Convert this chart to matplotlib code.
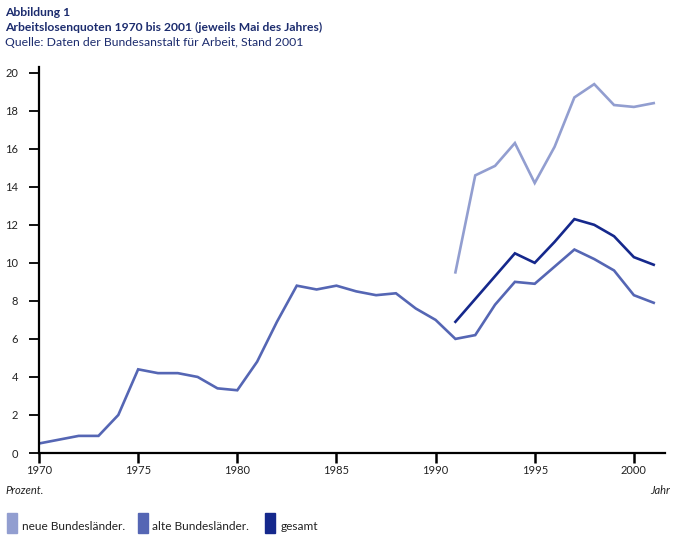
import matplotlib
matplotlib.use("Agg")
import matplotlib.pyplot as plt
from matplotlib.patches import Rectangle

years_alt = list(range(1970, 2002))
alte = [0.5, 0.7, 0.9, 0.9, 2.0, 4.4, 4.2, 4.2, 4.0, 3.4, 3.3, 4.8, 6.9, 8.8, 8.6, 8.8,
        8.5, 8.3, 8.4, 7.6, 7.0, 6.0, 6.2, 7.8, 9.0, 8.9, 9.8, 10.7, 10.2, 9.6, 8.3, 7.9]
years_new = list(range(1991, 2002))
neue = [9.5, 14.6, 15.1, 16.3, 14.2, 16.1, 18.7, 19.4, 18.3, 18.2, 18.4]
gesamt = [6.9, 8.1, 9.3, 10.5, 10.0, 11.1, 12.3, 12.0, 11.4, 10.3, 9.9]

xticks = [1970, 1975, 1980, 1985, 1990, 1995, 2000]
yticks = [0, 2, 4, 6, 8, 10, 12, 14, 16, 18, 20]

c_neue = "#929ed0"
c_alte = "#5566b4"
c_ges = "#15288c"
c_title = "#1c2c6e"

plt.rcParams['font.family'] = ['Lato', 'DejaVu Sans']

W, H = 675, 539
fig = plt.figure(figsize=(W / 100, H / 100), dpi=100)
ax = fig.add_axes([39 / W, 1 - 453 / H, (665 - 39) / W, (453 - 67) / H])

ax.plot(years_alt, alte, color=c_alte, lw=1.9, solid_joinstyle='miter')
ax.plot(years_new, neue, color=c_neue, lw=1.9, solid_joinstyle='miter')
ax.plot(years_new, gesamt, color=c_ges, lw=1.9, solid_joinstyle='miter')

ax.set_xlim(1970, 2001.57)
ax.set_ylim(0, 20.3)
ax.set_xticks(xticks)
ax.set_yticks(yticks)
for s in ['top', 'right']:
    ax.spines[s].set_visible(False)
for s in ['left', 'bottom']:
    ax.spines[s].set_linewidth(1.6)
    ax.spines[s].set_color('black')
ax.tick_params(axis='x', length=7, width=1.8, direction='out', pad=2,
               labelsize=8, labelcolor='#222222')
ax.tick_params(axis='y', length=7, width=1.3, direction='out', pad=8,
               labelsize=8, labelcolor='#222222')

fig.text(5 / W, 1 - 12 / H, "Abbildung 1", fontsize=8.7, fontweight='bold',
         color=c_title, va='center', ha='left')
fig.text(5 / W, 1 - 27 / H, "Arbeitslosenquoten 1970 bis 2001 (jeweils Mai des Jahres)",
         fontsize=8.7, fontweight='bold', color=c_title, va='center', ha='left')
fig.text(5 / W, 1 - 42 / H, "Quelle: Daten der Bundesanstalt für Arbeit, Stand 2001",
         fontsize=8.8, color=c_title, va='center', ha='left')

fig.text(5 / W, 1 - 491 / H, "Prozent.", fontsize=8, style='italic',
         color='#222222', va='center', ha='left')
fig.text(670 / W, 1 - 491 / H, "Jahr", fontsize=8, style='italic',
         color='#222222', va='center', ha='right')

legend_items = [("neue Bundesländer.", c_neue, 7, 22),
                ("alte Bundesländer.", c_alte, 138, 152),
                ("gesamt", c_ges, 265, 281)]
for label, col, xr, xt in legend_items:
    fig.patches.append(Rectangle((xr / W, 1 - 533 / H), 10 / W, 20 / H,
                                 transform=fig.transFigure, color=col))
    fig.text(xt / W, 1 - 527 / H, label, fontsize=8.6, color='#222222',
             va='center', ha='left')

fig.savefig("out.png", dpi=100)
